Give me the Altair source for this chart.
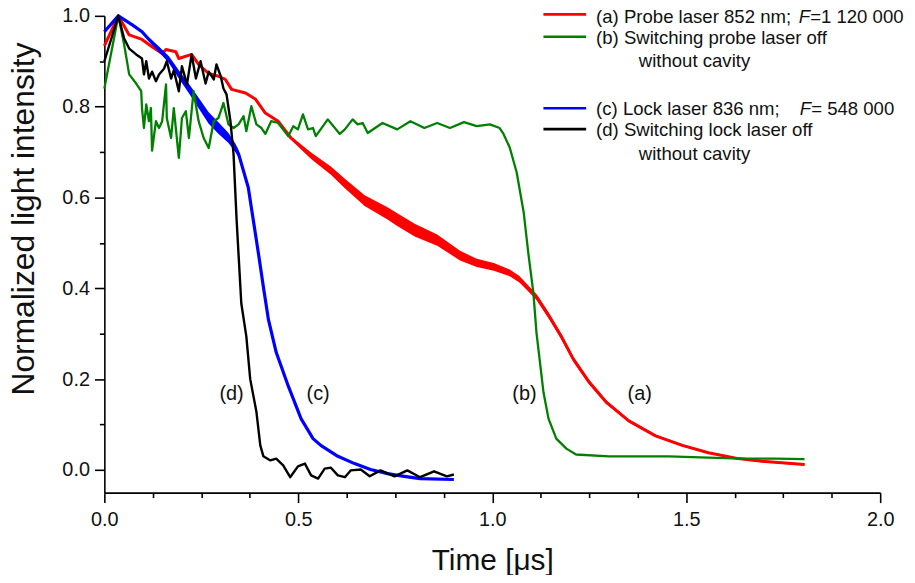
import altair as alt
import pandas as pd

FONT = "Liberation Sans"

# ---------------- data ----------------
# (a) probe laser, with cavity (red) : time [us], intensity, band thickness
red_t = [0, 0.036, 0.064, 0.097, 0.123, 0.149, 0.159, 0.184, 0.192, 0.225, 0.243, 0.269,
         0.294, 0.312, 0.328, 0.364, 0.389, 0.415, 0.448, 0.481, 0.533, 0.584, 0.620, 0.671,
         0.730, 0.754, 0.800, 0.858, 0.917, 0.960, 1.004, 1.045, 1.070, 1.088, 1.114, 1.147,
         1.178, 1.209, 1.250, 1.293, 1.352, 1.421, 1.490, 1.557, 1.634, 1.695, 1.805]
red_v = [0.934, 1.0, 0.958, 0.948, 0.932, 0.917, 0.926, 0.921, 0.906, 0.915, 0.893, 0.873,
         0.867, 0.860, 0.838, 0.830, 0.817, 0.786, 0.768, 0.731, 0.692, 0.659, 0.631, 0.593,
         0.565, 0.552, 0.528, 0.506, 0.472, 0.456, 0.447, 0.434, 0.420, 0.404, 0.381, 0.338,
         0.294, 0.244, 0.193, 0.150, 0.108, 0.075, 0.054, 0.038, 0.025, 0.019, 0.012]
red_w = [0, 0, 0, 0, 0, 0, 0, 0, 0, 0, 0, 0,
         0, 0, 0, 0, 0, 0, 0.004, 0.008, 0.014, 0.018, 0.021, 0.024,
         0.027, 0.028, 0.028, 0.025, 0.021, 0.018, 0.017, 0.015, 0.014, 0.013, 0.013, 0.013,
         0.012, 0.011, 0.010, 0.008, 0.006, 0.005, 0.005, 0.004, 0.004, 0.004, 0.004]

# (b) switching probe laser off, without cavity (green)
green_t = [0, 0.036, 0.051, 0.064, 0.082, 0.095, 0.097, 0.102, 0.108, 0.115, 0.120, 0.123,
           0.133, 0.141, 0.149, 0.159, 0.161, 0.172, 0.179, 0.192, 0.200, 0.210, 0.218, 0.230,
           0.243, 0.256, 0.269, 0.282, 0.294, 0.307, 0.320, 0.333, 0.346, 0.359, 0.366, 0.379,
           0.392, 0.405, 0.415, 0.430, 0.448, 0.474, 0.487, 0.499, 0.512, 0.525, 0.538, 0.545,
           0.576, 0.607, 0.620, 0.640, 0.653, 0.666, 0.679, 0.717, 0.755, 0.789, 0.825, 0.858,
           0.891, 0.927, 0.960, 0.994, 1.019, 1.029, 1.045, 1.063, 1.081, 1.093, 1.106, 1.114,
           1.122, 1.132, 1.145, 1.165, 1.191, 1.216, 1.301, 1.388, 1.455, 1.557, 1.644, 1.729,
           1.805]
green_v = [0.840, 1.0, 0.937, 0.871, 0.851, 0.834, 0.797, 0.753, 0.805, 0.768, 0.797, 0.703,
           0.768, 0.753, 0.768, 0.849, 0.775, 0.731, 0.797, 0.687, 0.775, 0.790, 0.731, 0.834,
           0.768, 0.731, 0.709, 0.768, 0.775, 0.808, 0.761, 0.753, 0.761, 0.779, 0.746, 0.801,
           0.761, 0.753, 0.740, 0.768, 0.764, 0.735, 0.757, 0.750, 0.783, 0.750, 0.753, 0.735,
           0.772, 0.740, 0.750, 0.772, 0.761, 0.764, 0.742, 0.764, 0.750, 0.768, 0.753, 0.764,
           0.753, 0.766, 0.757, 0.761, 0.753, 0.740, 0.710, 0.655, 0.567, 0.477, 0.390, 0.302,
           0.244, 0.171, 0.113, 0.069, 0.047, 0.034, 0.030, 0.030, 0.030, 0.027, 0.025, 0.025,
           0.024]

# (c) lock laser, with cavity (blue)
blue_t = [0, 0.036, 0.072, 0.097, 0.115, 0.141, 0.166, 0.192, 0.218, 0.243, 0.269, 0.294,
          0.320, 0.338, 0.346, 0.371, 0.384, 0.397, 0.410, 0.423, 0.443, 0.474, 0.507, 0.538,
          0.558, 0.602, 0.645, 0.686, 0.730, 0.773, 0.814, 0.901]
blue_v = [0.965, 1.0, 0.980, 0.965, 0.948, 0.926, 0.904, 0.871, 0.840, 0.808, 0.775, 0.753,
          0.731, 0.709, 0.696, 0.622, 0.550, 0.478, 0.403, 0.331, 0.259, 0.185, 0.113, 0.069,
          0.054, 0.030, 0.014, 0.001, -0.008, -0.014, -0.019, -0.021]
blue_w = [0, 0, 0.003, 0.006, 0.009, 0.012, 0.015, 0.018, 0.021, 0.023, 0.025, 0.025,
          0.022, 0.019, 0.016, 0.011, 0.008, 0.005, 0.003, 0.002, 0, 0, 0, 0,
          0, 0, 0, 0, 0, 0, 0, 0]

# (d) switching lock laser off, without cavity (black)
black_t = [0, 0.036, 0.051, 0.064, 0.082, 0.097, 0.102, 0.108, 0.115, 0.123, 0.133, 0.141,
           0.154, 0.161, 0.172, 0.179, 0.192, 0.200, 0.213, 0.225, 0.236, 0.248, 0.261, 0.269,
           0.282, 0.289, 0.300, 0.307, 0.315, 0.325, 0.333, 0.341, 0.353, 0.366, 0.376, 0.392,
           0.402, 0.410, 0.428, 0.443, 0.461, 0.479, 0.499, 0.517, 0.533, 0.551, 0.568, 0.584,
           0.602, 0.620, 0.635, 0.661, 0.684, 0.712, 0.748, 0.781, 0.814, 0.850, 0.883, 0.901]
black_v = [0.900, 1.0, 0.950, 0.928, 0.915, 0.906, 0.871, 0.900, 0.862, 0.877, 0.856, 0.871,
           0.884, 0.900, 0.862, 0.880, 0.834, 0.889, 0.849, 0.915, 0.862, 0.900, 0.851, 0.877,
           0.860, 0.893, 0.867, 0.840, 0.827, 0.768, 0.696, 0.550, 0.367, 0.294, 0.200, 0.128,
           0.054, 0.030, 0.021, 0.025, 0.010, -0.016, 0.008, 0.014, -0.012, -0.019, 0.003, 0.005,
           -0.012, -0.016, -0.001, 0.001, -0.014, -0.001, -0.014, -0.001, -0.016, -0.003, -0.014, -0.010]

# curve labels
lab_text = ["(a)", "(b)", "(c)", "(d)"]
lab_t = [1.380, 1.083, 0.551, 0.328]
lab_v = [0.167, 0.167, 0.167, 0.167]

x_major = [0, 0.5, 1.0, 1.5, 2.0]
x_minor = [0.125, 0.25, 0.375, 0.625, 0.75, 0.875, 1.125, 1.25, 1.375, 1.625, 1.75, 1.875]
y_major = [0, 0.2, 0.4, 0.6, 0.8, 1.0]
y_minor = [0.1, 0.3, 0.5, 0.7, 0.9]

# ---------------- build ----------------
def band(t, v, w):
    return pd.DataFrame({"t": t, "v": v,
                         "lo": [a - b / 2 for a, b in zip(v, w)],
                         "hi": [a + b / 2 for a, b in zip(v, w)]})

red_df = band(red_t, red_v, red_w)
blue_df = band(blue_t, blue_v, blue_w)
green_df = pd.DataFrame({"t": green_t, "v": green_v})
black_df = pd.DataFrame({"t": black_t, "v": black_v})
lab_df = pd.DataFrame({"t": lab_t, "v": lab_v, "label": lab_text})
one = pd.DataFrame({"k": [0]})

xs = alt.Scale(domain=[0, 2.0], nice=False, zero=False)
ys = alt.Scale(domain=[-0.05, 1.0], nice=False, zero=False)

major_x = alt.Axis(values=x_major, format=".1f", tickSize=10, labelPadding=7,
                   labelFontSize=20, labelFont=FONT, labelColor="#111",
                   labelFlush=False, labelOverlap=False,
                   title="Time [μs]", titleFontSize=30, titleFont=FONT,
                   titleFontWeight="normal", titleBaseline="alphabetic", titleY=77,
                   titleColor="#111", grid=False, domainColor="black", tickColor="black",
                   domainWidth=1.6, tickWidth=1.6, orient="bottom")
major_y = alt.Axis(values=y_major, format=".1f", tickSize=10, labelPadding=5,
                   labelFontSize=20, labelFont=FONT, labelColor="#111",
                   labelFlush=False, labelOverlap=False,
                   title="Normalized light intensity", titleFontSize=32, titleFont=FONT,
                   titleFontWeight="normal", titleBaseline="alphabetic", titleAngle=-90,
                   titleX=-71, titleY=204, titleAlign="center", titleColor="#111",
                   grid=False, domainColor="black", tickColor="black",
                   domainWidth=1.6, tickWidth=1.6, orient="left")
minor_x = alt.Axis(values=x_minor, labels=False, tickSize=5, domain=False, grid=False,
                   title="", tickColor="black", tickWidth=1.6, orient="bottom")
minor_y = alt.Axis(values=y_minor, labels=False, tickSize=5, domain=False, grid=False,
                   title="", tickColor="black", tickWidth=1.6, orient="left")

def line(df, color, width):
    return alt.Chart(df).mark_line(color=color, strokeWidth=width, interpolate="linear",
                                   strokeJoin="round").encode(
        x=alt.X("t:Q", scale=xs, axis=None), y=alt.Y("v:Q", scale=ys, axis=None))

def area(df, color):
    return alt.Chart(df).mark_area(color=color, opacity=1, interpolate="linear").encode(
        x=alt.X("t:Q", scale=xs, axis=None), y=alt.Y("lo:Q", scale=ys, axis=None), y2="hi:Q")

axes_major = alt.Chart(one).mark_point(opacity=0).encode(
    x=alt.X("k:Q", scale=xs, axis=major_x), y=alt.Y("k:Q", scale=ys, axis=major_y))
axes_minor = alt.Chart(one).mark_point(opacity=0).encode(
    x=alt.X("k:Q", scale=xs, axis=minor_x), y=alt.Y("k:Q", scale=ys, axis=minor_y))

labels = alt.Chart(lab_df).mark_text(font=FONT, fontSize=20, color="#111").encode(
    x=alt.X("t:Q", scale=xs, axis=None), y=alt.Y("v:Q", scale=ys, axis=None), text="label:N")

# legend (drawn by hand, in pixel positions of the plot area)
LEG_FS = 18.7

def leg_line(y, color):
    return alt.Chart(one).mark_rule(color=color, strokeWidth=2.6).encode(
        x=alt.value(442), x2=alt.value(485), y=alt.value(y))

def leg_text(x, y, s, italic=False):
    return alt.Chart(one).mark_text(font=FONT, fontSize=LEG_FS, color="#111", align="left",
                                    baseline="middle",
                                    fontStyle="italic" if italic else "normal").encode(
        x=alt.value(x), y=alt.value(y), text=alt.value(s))

legend = [
    leg_line(-1.5, "red"), leg_line(21, "green"), leg_line(93, "blue"), leg_line(114, "black"),
    leg_text(495, 1.5, "(a) Probe laser 852 nm;"), leg_text(699, 1.5, "F", True),
    leg_text(710.5, 1.5, "=1 120 000"),
    leg_text(495, 22, "(b) Switching probe laser off"),
    leg_text(538, 46, "without cavity"),
    leg_text(495, 94, "(c) Lock laser 836 nm;"), leg_text(700, 94, "F", True),
    leg_text(711.5, 94, "= 548 000"),
    leg_text(495, 115, "(d) Switching lock laser off"),
    leg_text(538, 139, "without cavity"),
]

chart = alt.layer(
    axes_major, axes_minor,
    area(red_df, "#ff0000"), line(red_df, "#ff0000", 3.0),
    area(blue_df, "#0000ff"), line(blue_df, "#0000ff", 3.2),
    line(green_df, "#008000", 2.3),
    line(black_df, "#000000", 2.4),
    labels, *legend,
).resolve_axis(x="independent", y="independent").properties(
    width=781, height=480,
    padding={"left": 97, "top": 6, "right": 27, "bottom": 81},
    autosize=alt.AutoSizeParams(type="none"),
).configure_view(stroke=None)

chart.save("out.html", embed_options={"renderer": "svg", "actions": False})
